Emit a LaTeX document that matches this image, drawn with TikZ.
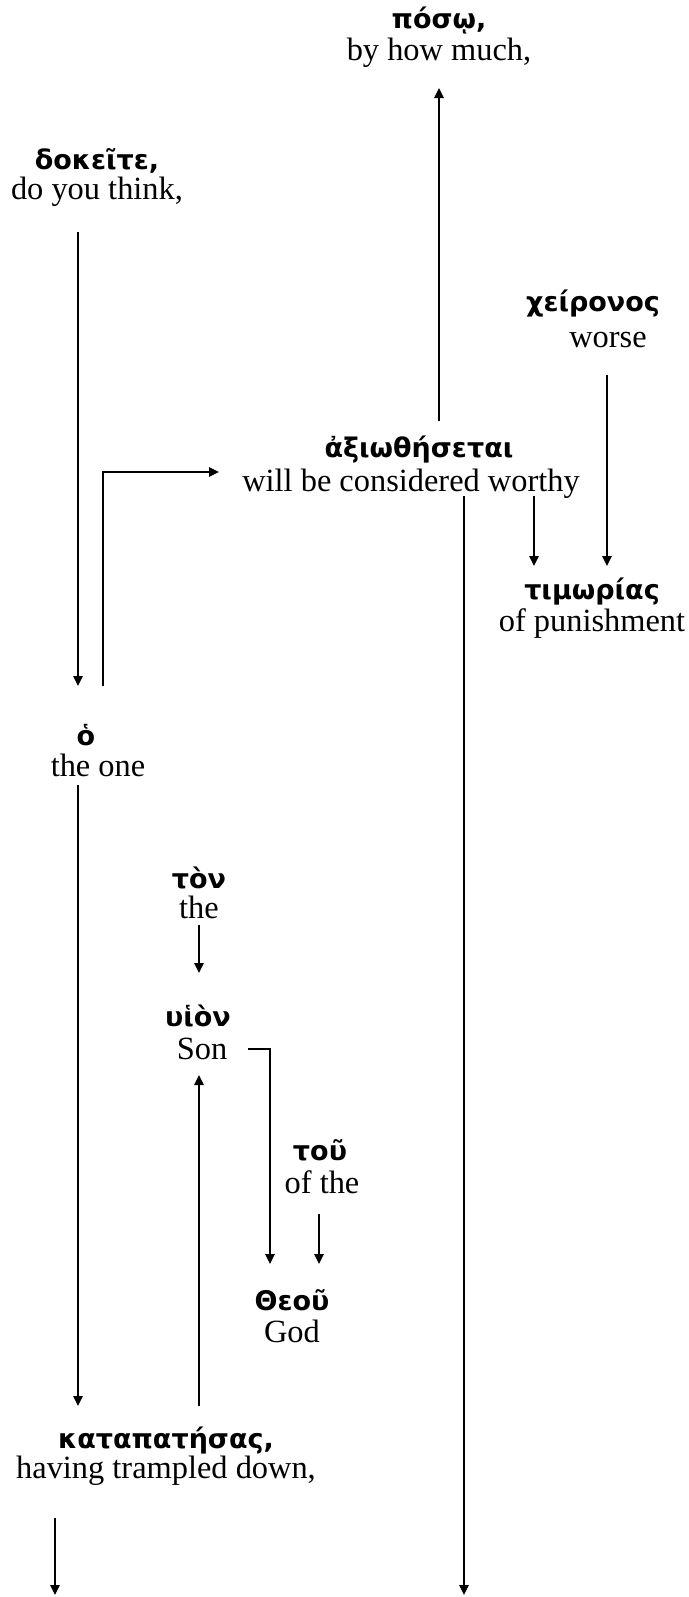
\documentclass[tikz,border=0pt]{standalone}
\usepackage{fontspec}
\setmainfont{Liberation Serif}
\newfontfamily\grk{DejaVu Sans}
\usetikzlibrary{arrows.meta}
\tikzset{
  gr/.style={inner sep=0pt, font=\grk\bfseries\fontsize{13.5}{15}\selectfont},
  en/.style={inner sep=0pt, font=\fontsize{16.2}{19}\selectfont},
  conn/.style={line width=1pt},
  arr/.style={conn, -{Triangle[length=5pt,width=4.6pt]}}
}
\begin{document}
\begin{tikzpicture}[x=0.5pt,y=-0.5pt]
\useasboundingbox (0,0) rectangle (689,1597);
% nodes
\node[gr] (posG) at (439,21) {πόσῳ,};
\node[en] (posE) at (439,53) {by how much,};
\node[gr] (dokG) at (97,161) {δοκεῖτε,};
\node[en] (dokE) at (97,192) {do you think,};
\node[gr] (chG) at (593,304) {χείρονος};
\node[en] (chE) at (608,340) {worse};
\node[gr] (axG) at (419,450) {ἀξιωθήσεται};
\node[en] (axE) at (411,484) {will be considered worthy};
\node[gr] (tiG) at (592,592) {τιμωρίας};
\node[en] (tiE) at (592,624) {of punishment};
\node[gr] (hoG) at (86,735) {ὁ};
\node[en] (hoE) at (98,765) {the one};
\node[gr] (toG) at (199,878) {τὸν};
\node[en] (toE) at (199,907) {the};
\node[gr] (huG) at (198,1016) {υἱὸν};
\node[en] (huE) at (202,1049) {Son};
\node[gr] (touG) at (320,1150) {τοῦ};
\node[en] (touE) at (322,1182) {of the};
\node[gr] (thG) at (292,1300) {Θεοῦ};
\node[en] (thE) at (292,1331) {God};
\node[gr] (kaG) at (166,1440) {καταπατήσας,};
\node[en] (kaE) at (166,1471) {having trampled down,};
% connector end points
\coordinate (a1s) at (439,421); \coordinate (a1e) at (439,88);
\coordinate (a2s) at (78,232);  \coordinate (a2e) at (78,686);
\coordinate (a3s) at (607,375); \coordinate (a3e) at (607,566);
\coordinate (a4s) at (103,686); \coordinate (a4m) at (103,472); \coordinate (a4e) at (219,472);
\coordinate (a5s) at (534,496); \coordinate (a5e) at (534,566);
\coordinate (a6s) at (464,496); \coordinate (a6e) at (464,1595);
\coordinate (a7s) at (78,785);  \coordinate (a7e) at (78,1406);
\coordinate (a8s) at (199,925); \coordinate (a8e) at (199,973);
\coordinate (a9s) at (248,1049); \coordinate (a9m) at (270,1049); \coordinate (a9e) at (270,1264);
\coordinate (a10s) at (199,1406); \coordinate (a10e) at (199,1075);
\coordinate (a11s) at (319,1214); \coordinate (a11e) at (319,1264);
\coordinate (a12s) at (55,1518); \coordinate (a12e) at (55,1595);
% connectors
\draw[arr] (a1s) -- (a1e);
\draw[arr] (a2s) -- (a2e);
\draw[arr] (a3s) -- (a3e);
\draw[arr] (a4s) -- (a4m) -- (a4e);
\draw[arr] (a5s) -- (a5e);
\draw[arr] (a6s) -- (a6e);
\draw[arr] (a7s) -- (a7e);
\draw[arr] (a8s) -- (a8e);
\draw[arr] (a9s) -- (a9m) -- (a9e);
\draw[arr] (a10s) -- (a10e);
\draw[arr] (a11s) -- (a11e);
\draw[arr] (a12s) -- (a12e);
\end{tikzpicture}
\end{document}
